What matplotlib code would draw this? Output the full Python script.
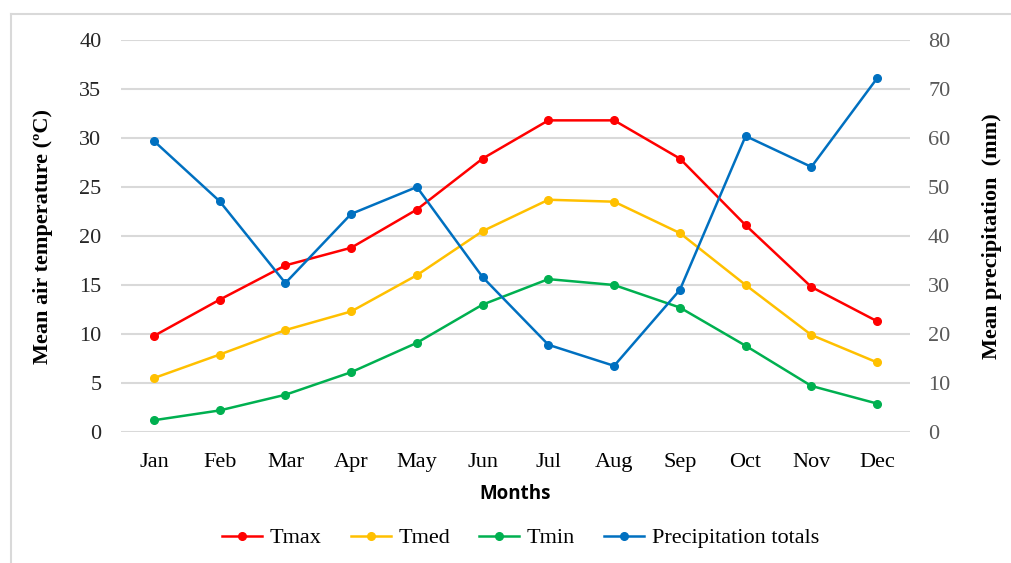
import matplotlib
matplotlib.use("Agg")
import matplotlib.pyplot as plt
from matplotlib.lines import Line2D

months = ["Jan", "Feb", "Mar", "Apr", "May", "Jun", "Jul", "Aug", "Sep", "Oct", "Nov", "Dec"]
tmax = [9.8, 13.5, 17.0, 18.8, 22.7, 27.9, 31.8, 31.8, 27.9, 21.1, 14.8, 11.3]
tmed = [5.5, 7.9, 10.4, 12.3, 16.0, 20.5, 23.7, 23.5, 20.3, 15.0, 9.9, 7.1]
tmin = [1.2, 2.2, 3.8, 6.1, 9.1, 13.0, 15.6, 15.0, 12.7, 8.8, 4.7, 2.9]
precip = [59.4, 47.1, 30.4, 44.5, 50.0, 31.6, 17.8, 13.5, 29.0, 60.4, 54.1, 72.2]
left_ticks = [0, 5, 10, 15, 20, 25, 30, 35, 40]
right_ticks = [0, 10, 20, 30, 40, 50, 60, 70, 80]

serif = "Liberation Serif"
fs = 16
W, H = 1011, 563
fig = plt.figure(figsize=(W / 100, H / 100), dpi=100)

# outer border (top and left visible)
fig.add_artist(Line2D([11 / W, 11 / W], [0, 1 - 14 / H], transform=fig.transFigure, color="#d9d9d9", lw=1.5))
fig.add_artist(Line2D([11 / W, 1], [1 - 14 / H, 1 - 14 / H], transform=fig.transFigure, color="#d9d9d9", lw=1.5))

ax = fig.add_axes([121 / W, 1 - 432 / H, (910 - 121) / W, (432 - 40) / H])
ax2 = ax.twinx()

x = list(range(len(months)))
ms = 5.5
lw = 1.8
l1, = ax.plot(x, tmax, color="#ff0000", marker="o", ms=ms, lw=lw, label="Tmax", zorder=3)
l2, = ax.plot(x, tmed, color="#ffc000", marker="o", ms=ms, lw=lw, label="Tmed", zorder=3)
l3, = ax.plot(x, tmin, color="#00b050", marker="o", ms=ms, lw=lw, label="Tmin", zorder=3)
l4, = ax2.plot(x, precip, color="#0070c0", marker="o", ms=ms, lw=lw, label="Precipitation totals", zorder=3)

ax.set_xlim(-0.5, 11.5)
ax.set_ylim(0, 40)
ax2.set_ylim(0, 80)
ax.set_yticks(left_ticks)
ax2.set_yticks(right_ticks)
ax.set_xticks(x)
ax.set_xticklabels(months)

for a in (ax, ax2):
    for s in a.spines.values():
        s.set_visible(False)
    a.tick_params(length=0)

ax.grid(axis="y", color="#d9d9d9", lw=1.5, zorder=0)
ax.set_axisbelow(True)

for lab in ax.get_yticklabels():
    lab.set_fontfamily(serif); lab.set_fontsize(fs); lab.set_color("#262626")
for lab in ax2.get_yticklabels():
    lab.set_fontfamily(serif); lab.set_fontsize(fs); lab.set_color("#595959")
for lab in ax.get_xticklabels():
    lab.set_fontfamily(serif); lab.set_fontsize(fs); lab.set_color("#000000")

ax.tick_params(axis="y", pad=14)
ax2.tick_params(axis="y", pad=13)
ax.tick_params(axis="x", pad=15)

ax.set_ylabel("Mean air temperature (\u00baC)", fontfamily=serif, fontsize=fs, fontweight="bold", labelpad=19)
ax2.set_ylabel("Mean precipitation  (mm)", fontfamily=serif, fontsize=fs, fontweight="bold", labelpad=23)
ax.set_xlabel("Months", fontfamily="Open Sans", fontsize=13.5, fontweight="bold", labelpad=9)

fig.legend(handles=[l1, l2, l3, l4], loc="center", bbox_to_anchor=(0.515, 1 - 538 / H), ncol=4,
           frameon=False, prop={"family": serif, "size": fs}, handlelength=1.8, handletextpad=0.35,
           columnspacing=1.3)

fig.savefig("out.png", dpi=100, facecolor="white")
